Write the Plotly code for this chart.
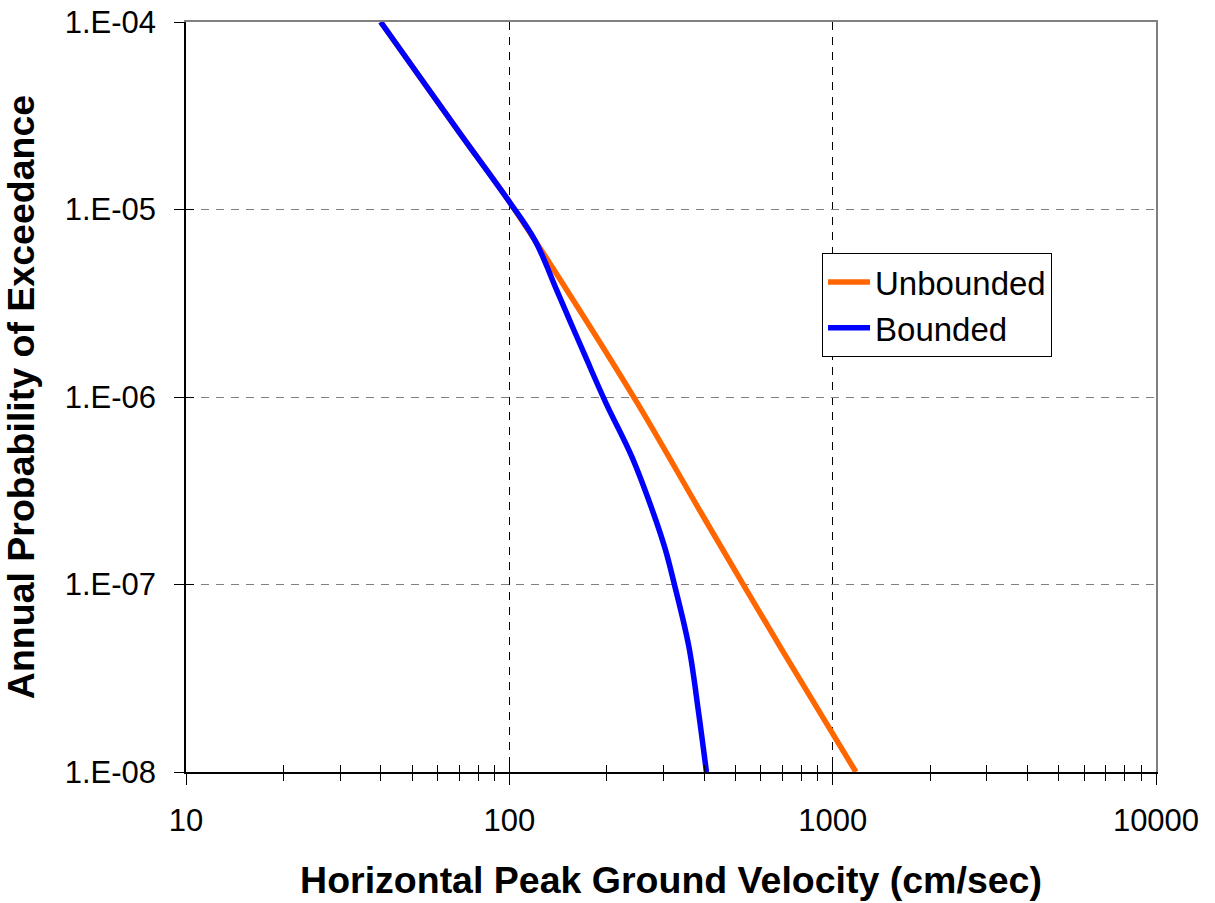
import plotly.graph_objects as go

# ---- data ----
unb_x = [40, 70, 100, 150, 250, 400, 700, 1180]
unb_y = [1.0e-4, 2.58e-5, 1.10e-5, 3.76e-6, 9.16e-7, 2.27e-7, 4.43e-8, 1.0e-8]

bnd_x = [40, 70, 100, 120, 140, 155, 172, 199, 239, 279, 304, 324, 359, 385, 407]
bnd_y = [1.0e-4, 2.58e-5, 1.10e-5, 6.85e-6, 3.73e-6, 2.48e-6, 1.64e-6, 9.28e-7,
         4.82e-7, 2.40e-7, 1.53e-7, 1.0e-7, 4.68e-8, 2.07e-8, 1.0e-8]

x_tickvals = [10, 100, 1000, 10000]
x_ticktext = ["10", "100", "1000", "10000"]
x_minorvals = [m * d for d in (10, 100, 1000) for m in range(2, 10)]
y_tickvals = [1e-8, 1e-7, 1e-6, 1e-5, 1e-4]
y_ticktext = ["1.E-08", "1.E-07", "1.E-06", "1.E-05", "1.E-04"]

FONT = "Arial, Liberation Sans, sans-serif"

fig = go.Figure()
fig.add_trace(go.Scatter(x=unb_x, y=unb_y, mode="lines", name="Unbounded",
                         line=dict(color="#FF6600", width=5.5, shape="spline", smoothing=1.0),
                         xaxis="x", yaxis="y"))
fig.add_trace(go.Scatter(x=bnd_x, y=bnd_y, mode="lines", name="Bounded",
                         line=dict(color="#0000FF", width=5.5, shape="spline", smoothing=1.0),
                         xaxis="x2", yaxis="y2"))

common_x = dict(type="log", range=[1, 4], automargin=False)
common_y = dict(type="log", range=[-8, -4], automargin=False)

fig.update_layout(
    width=1215, height=903,
    margin=dict(l=186, r=59, t=22, b=131),
    paper_bgcolor="white", plot_bgcolor="white",
    font=dict(family=FONT, color="black", size=31),
    showlegend=True,
    legend=dict(x=0.6557, y=0.692, xanchor="left", yanchor="top",
                bordercolor="black", borderwidth=1, bgcolor="white",
                itemwidth=42,
                font=dict(size=33, family=FONT), tracegroupgap=0),
    # main axes: gray frame (mirrored), outside ticks, labels, grid
    xaxis=dict(**common_x, tickmode="array", tickvals=x_tickvals, ticktext=x_ticktext,
               ticks="outside", ticklen=11, tickcolor="black", tickwidth=1,
               showline=True, mirror=True, linecolor="#808080", linewidth=1.5,
               showgrid=True, gridcolor="black", griddash="8px,7px", gridwidth=1,
               zeroline=False, ticklabelstandoff=9, ticklabeloverflow="allow",
               minor=dict(tickmode="array", tickvals=x_minorvals, ticks="outside",
                          ticklen=7, tickcolor="black", showgrid=False),
               title=dict(text="<b>Horizontal Peak Ground Velocity (cm/sec)</b>",
                          font=dict(size=37.5), standoff=30)),
    yaxis=dict(**common_y, tickmode="array", tickvals=y_tickvals, ticktext=y_ticktext,
               ticks="outside", ticklen=10, tickcolor="black", tickwidth=1,
               showline=True, mirror=True, linecolor="#808080", linewidth=1.5,
               showgrid=True, gridcolor="#808080", griddash="8px,7px", gridwidth=1,
               zeroline=False, ticklabelstandoff=12, ticklabeloverflow="allow",
               title=dict(text="<b>Annual Probability of Exceedance</b>",
                          font=dict(size=37.5), standoff=28)),
    # overlay axes: black left/bottom axis lines and inside half of the crossing ticks
    xaxis2=dict(**common_x, overlaying="x", side="bottom", anchor="y2",
                tickmode="array", tickvals=x_tickvals, ticks="inside", ticklen=11,
                tickcolor="black", showticklabels=False, showgrid=False,
                showline=True, linecolor="black", linewidth=1.5, zeroline=False,
                minor=dict(tickmode="array", tickvals=x_minorvals, ticks="inside",
                           ticklen=7, tickcolor="black", showgrid=False)),
    yaxis2=dict(**common_y, overlaying="y", side="left", anchor="x2",
                tickmode="array", tickvals=y_tickvals, ticks="inside", ticklen=8,
                tickcolor="black", showticklabels=False, showgrid=False,
                showline=True, linecolor="black", linewidth=1.5, zeroline=False),
)

fig.write_html("out.html", config={"displayModeBar": False},
               post_script="document.body.style.margin='0';")
